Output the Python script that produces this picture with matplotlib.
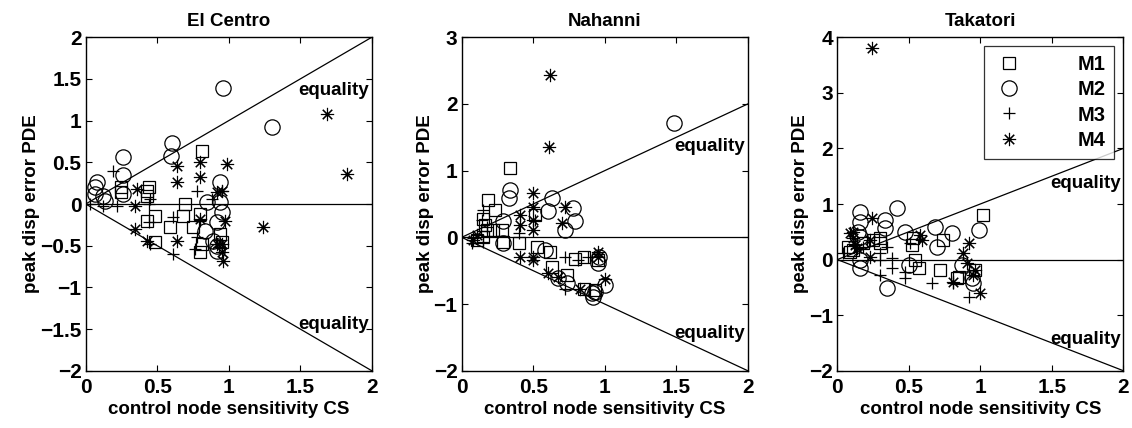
import matplotlib
matplotlib.use("Agg")
import matplotlib.pyplot as plt

plt.rcParams['font.family'] = ['Liberation Sans', 'DejaVu Sans']
plt.rcParams['font.weight'] = 'bold'
plt.rcParams['axes.labelweight'] = 'bold'
plt.rcParams['axes.titleweight'] = 'bold'

titles = ["El Centro", "Nahanni", "Takatori"]
series_names = ["M1", "M2", "M3", "M4"]
ylims = [(-2, 2), (-2, 3), (-2, 4)]
yticks = [[-2, -1.5, -1, -0.5, 0, 0.5, 1, 1.5, 2], [-2, -1, 0, 1, 2, 3], [-2, -1, 0, 1, 2, 3, 4]]
xticks = [0, 0.5, 1, 1.5, 2]
xticklabels = ['0', '0.5', '1', '1.5', '2']

# ---- El Centro ----
ec_m1_x = [0.81, 0.25, 0.25, 0.44, 0.43, 0.43, 0.485, 0.43, 0.485, 0.695, 0.68, 0.59, 0.75, 0.80, 0.81, 0.80, 0.94, 0.95]
ec_m1_y = [0.64, 0.20, 0.14, 0.20, 0.16, 0.10, -0.14, -0.20, -0.46, 0.0, -0.14, -0.28, -0.28, -0.12, -0.48, -0.58, -0.36, -0.46]
ec_m2_x = [0.963, 1.30, 0.60, 0.594, 0.263, 0.263, 0.263, 0.077, 0.065, 0.065, 0.12, 0.135, 0.94, 0.94, 0.85, 0.835, 0.915, 0.95, 0.89, 0.92, 0.92]
ec_m2_y = [1.39, 0.92, 0.73, 0.58, 0.56, 0.35, 0.12, 0.26, 0.20, 0.12, 0.10, 0.04, 0.26, 0.02, 0.02, -0.32, -0.22, -0.10, -0.44, -0.56, -0.50]
ec_m3_x = [0.193, 0.03, 0.12, 0.217, 0.45, 0.44, 0.44, 0.45, 0.61, 0.61, 0.776, 0.776, 0.765, 0.95, 0.88, 0.80, 0.93]
ec_m3_y = [0.40, 0.0, -0.02, -0.02, 0.06, 0.0, -0.22, -0.48, -0.16, -0.60, 0.16, -0.40, -0.54, 0.16, 0.06, -0.20, -0.52]
ec_m4_x = [1.685, 1.825, 1.24, 0.636, 0.636, 0.80, 0.80, 0.986, 0.357, 0.345, 0.345, 0.427, 0.636, 0.916, 0.95, 0.975, 0.95, 0.95, 0.96, 0.80, 0.92]
ec_m4_y = [1.08, 0.36, -0.28, 0.46, 0.26, 0.50, 0.32, 0.48, 0.18, -0.02, -0.30, -0.44, -0.44, 0.14, 0.16, -0.20, -0.48, -0.58, -0.68, -0.18, -0.48]

# ---- Nahanni ----
na_m1_x = [0.335, 0.187, 0.234, 0.15, 0.165, 0.175, 0.22, 0.28, 0.51, 0.105, 0.15, 0.29, 0.40, 0.53, 0.62, 0.63, 0.737, 0.795, 0.855, 0.855, 0.935, 0.95]
na_m1_y = [1.035, 0.56, 0.41, 0.28, 0.18, 0.11, 0.11, 0.11, 0.33, -0.04, 0.01, -0.07, -0.09, -0.14, -0.22, -0.44, -0.57, -0.32, -0.29, -0.77, -0.79, -0.34]
na_m2_x = [1.485, 0.34, 0.33, 0.63, 0.60, 0.78, 0.79, 0.725, 0.29, 0.29, 0.585, 0.735, 0.67, 0.95, 0.96, 1.0, 0.92, 0.91, 0.93]
na_m2_y = [1.71, 0.71, 0.59, 0.59, 0.39, 0.44, 0.24, 0.11, 0.24, -0.09, -0.19, -0.69, -0.61, -0.39, -0.29, -0.71, -0.89, -0.84, -0.82]
na_m3_x = [0.152, 0.14, 0.175, 0.08, 0.07, 0.15, 0.725, 0.81, 0.725, 0.515, 0.40, 0.88]
na_m3_y = [0.41, 0.26, 0.16, -0.015, -0.09, -0.065, -0.29, -0.34, -0.77, 0.26, 0.06, -0.29]
na_m4_x = [0.62, 0.61, 0.50, 0.50, 0.41, 0.41, 0.50, 0.50, 0.725, 0.70, 0.41, 0.50, 0.50, 0.60, 0.67, 0.83, 0.95, 0.95, 1.0, 0.08, 0.105]
na_m4_y = [2.44, 1.36, 0.67, 0.46, 0.34, 0.18, 0.26, 0.11, 0.46, 0.21, -0.29, -0.29, -0.34, -0.54, -0.59, -0.77, -0.22, -0.29, -0.62, -0.04, 0.035]

# ---- Takatori ----
ta_m1_x = [1.02, 0.74, 0.52, 0.53, 0.544, 0.57, 0.72, 0.836, 0.85, 0.965, 0.18, 0.30, 0.30, 0.25, 0.09, 0.077, 0.11]
ta_m1_y = [0.80, 0.35, 0.26, 0.38, -0.01, -0.16, -0.19, -0.34, -0.31, -0.18, 0.29, 0.29, 0.38, 0.35, 0.14, 0.23, 0.17]
ta_m2_x = [0.416, 0.16, 0.16, 0.147, 0.16, 0.334, 0.334, 0.474, 0.685, 0.80, 0.70, 0.99, 0.50, 0.346, 0.16, 0.16, 0.87, 0.95, 0.94]
ta_m2_y = [0.92, 0.86, 0.68, 0.50, 0.41, 0.71, 0.56, 0.50, 0.59, 0.47, 0.23, 0.53, -0.10, -0.52, -0.16, -0.01, -0.10, -0.43, -0.34]
ta_m3_x = [0.346, 0.38, 0.38, 0.474, 0.474, 0.30, 0.66, 0.92, 0.81, 0.30, 0.30, 0.18, 0.51, 0.04]
ta_m3_y = [0.23, 0.02, -0.16, -0.22, -0.34, -0.28, -0.43, -0.67, -0.43, 0.11, -0.01, 0.23, 0.29, 0.11]
ta_m4_x = [0.24, 0.24, 0.112, 0.112, 0.124, 0.135, 0.23, 0.23, 0.58, 0.59, 0.92, 0.88, 0.81, 0.91, 0.965, 1.0, 0.95, 0.09]
ta_m4_y = [3.80, 0.74, 0.50, 0.38, 0.26, 0.20, 0.35, 0.05, 0.44, 0.35, 0.29, 0.11, -0.40, -0.07, -0.19, -0.61, -0.28, 0.47]

panels = [
    [(ec_m1_x, ec_m1_y), (ec_m2_x, ec_m2_y), (ec_m3_x, ec_m3_y), (ec_m4_x, ec_m4_y)],
    [(na_m1_x, na_m1_y), (na_m2_x, na_m2_y), (na_m3_x, na_m3_y), (na_m4_x, na_m4_y)],
    [(ta_m1_x, ta_m1_y), (ta_m2_x, ta_m2_y), (ta_m3_x, ta_m3_y), (ta_m4_x, ta_m4_y)],
]

marker_styles = [dict(marker='s', ms=8.5, mew=0.9), dict(marker='o', ms=11, mew=0.9),
                 dict(marker='+', ms=9, mew=0.9), dict(marker=(8, 2, 0), ms=9.5, mew=0.8)]

fig = plt.figure(figsize=(11.32, 4.28), dpi=100)
lefts = [85.7 / 1132, 461.7 / 1132, 837.3 / 1132]
w = 286 / 1132
b = 57.3 / 428
h = 333.4 / 428

for i, ax_left in enumerate(lefts):
    ax = fig.add_axes([ax_left, b, w, h])
    ax.plot([0, 2], [0, 2], color='black', lw=0.9)
    ax.plot([0, 2], [0, -2], color='black', lw=0.9)
    ax.plot([0, 2], [0, 0], color='black', lw=0.9)
    handles = []
    for (xs, ys), st, name in zip(panels[i], marker_styles, series_names):
        ln, = ax.plot(xs, ys, linestyle='none', color='black', mfc='none', mec='black',
                      mew=st['mew'], marker=st['marker'], ms=st['ms'], label=name)
        handles.append(ln)
    ax.text(1.98, 1.36, 'equality', ha='right', va='center', fontsize=13.5, fontweight='bold')
    ax.text(1.98, -1.44, 'equality', ha='right', va='center', fontsize=13.5, fontweight='bold')
    ax.set_xlim(0, 2)
    ax.set_ylim(*ylims[i])
    ax.set_xticks(xticks)
    ax.set_xticklabels(xticklabels)
    ax.set_yticks(yticks[i])
    ax.set_yticklabels([('\u2212' if v < 0 else '') + ('%g' % abs(v)) for v in yticks[i]])
    ax.tick_params(direction='in', top=True, right=True, length=4, width=0.8, labelsize=15)
    ax.tick_params(axis='x', pad=5)
    ax.tick_params(axis='y', pad=3)
    for sp in ax.spines.values():
        sp.set_linewidth(1.0)
    ax.set_title(titles[i], fontsize=13.5, fontweight='bold', pad=8)
    ax.set_xlabel('control node sensitivity CS', fontsize=13.5, fontweight='bold', labelpad=3)
    ax.set_ylabel('peak disp error PDE', fontsize=13.5, fontweight='bold', labelpad=0)
    if i == 2:
        leg = ax.legend(handles=handles, loc='upper right', fontsize=14.5, frameon=True,
                        fancybox=False, edgecolor='black', handlelength=1.6, handletextpad=2.6,
                        borderpad=0.45, labelspacing=0.3, borderaxespad=0.45)
        leg.get_frame().set_linewidth(0.9)
        for t in leg.get_texts():
            t.set_fontweight('bold')

fig.savefig('out.png', dpi=100)
